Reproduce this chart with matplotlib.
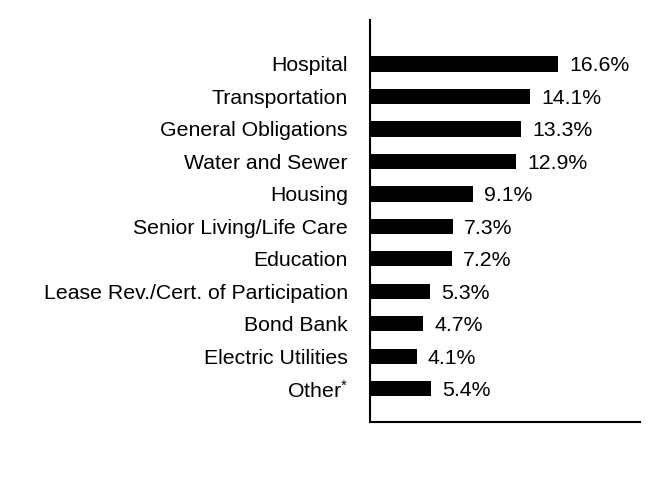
import matplotlib.pyplot as plt
import numpy as np

plt.rcParams['font.family'] = ['Liberation Sans', 'DejaVu Sans']
plt.rcParams['mathtext.fontset'] = 'custom'
plt.rcParams['mathtext.rm'] = 'Liberation Sans'
plt.rcParams['mathtext.it'] = 'Liberation Sans'

categories = ["Hospital", "Transportation", "General Obligations", "Water and Sewer",
              "Housing", "Senior Living/Life Care", "Education",
              "Lease Rev./Cert. of Participation", "Bond Bank", "Electric Utilities",
              "Other$^{*}$"]
values = [16.6, 14.1, 13.3, 12.9, 9.1, 7.3, 7.2, 5.3, 4.7, 4.1, 5.4]
value_labels = ["16.6%", "14.1%", "13.3%", "12.9%", "9.1%", "7.3%", "7.2%",
                "5.3%", "4.7%", "4.1%", "5.4%"]

fig = plt.figure(figsize=(6.6, 5.04), dpi=100)
ax = fig.add_axes([370 / 660, 1 - 422 / 504, 270 / 660, 402 / 504])

y = np.arange(len(categories))
ax.barh(y, values, height=0.47, color="black")

for yi, v, lab in zip(y, values, value_labels):
    ax.annotate(lab, (v, yi), xytext=(8, 0), textcoords="offset points",
                va="center_baseline", ha="left", fontsize=15.3)

ax.set_yticks(y)
ax.set_yticklabels(categories, fontsize=15.3)
ax.tick_params(axis="y", length=0, pad=16)
ax.set_xticks([])
ax.set_xlim(0, 23.8)
ax.set_ylim(len(categories) - 1 + 1.02, -1.35)

ax.spines["top"].set_visible(False)
ax.spines["right"].set_visible(False)
ax.spines["left"].set_linewidth(1.5)
ax.spines["bottom"].set_linewidth(1.5)

fig.savefig("out.png", dpi=100)
